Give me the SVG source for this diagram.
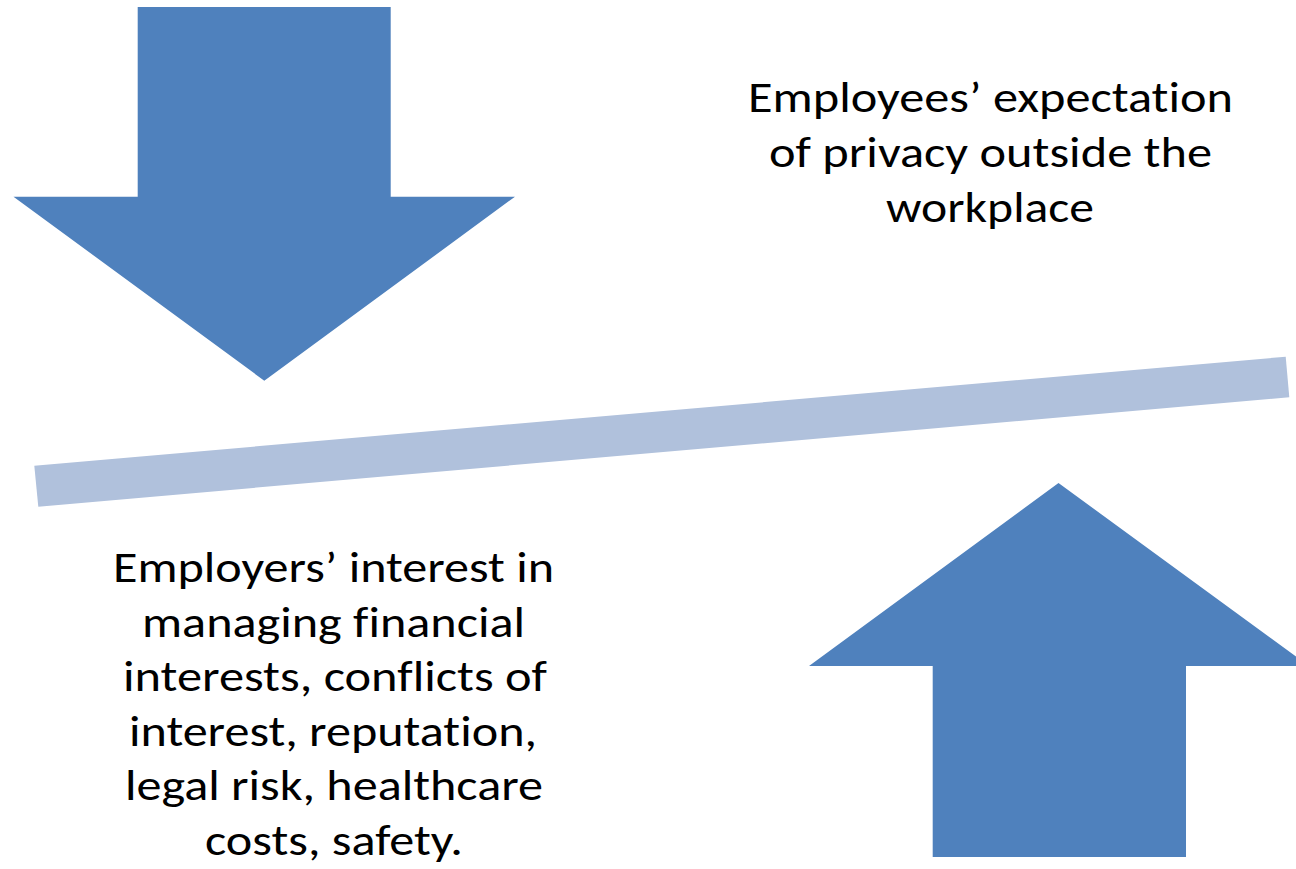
<svg xmlns="http://www.w3.org/2000/svg" width="1296" height="869" viewBox="0 0 1296 869">
  <style>
    .arrow { fill: #4F81BD; }
    .beam { fill: #B0C1DC; }
    .label { font-family: Carlito, Lato, "Liberation Sans", sans-serif; font-size: 44px; fill: #000000; text-anchor: middle; font-variant-ligatures: none; font-feature-settings: "liga" 0, "clig" 0, "calt" 0, "dlig" 0; text-rendering: optimizeSpeed; }
  </style>
  <rect width="1296" height="869" fill="#FFFFFF"/>

  <!-- downward block arrow pressing on the left end of the beam -->
  <g id="arrow-down">
    <polygon class="arrow" points="137.7,7 390.7,7 390.7,196.7 515,196.7 264.3,380.7 13.5,196.7 137.7,196.7"/>
  </g>

  <!-- tilted balance beam -->
  <g id="beam">
    <polygon class="beam" points="34.3,465.7 1285.7,356.7 1289.3,397.3 38.3,506.7"/>
  </g>

  <!-- upward block arrow pushing the right end of the beam -->
  <g id="arrow-up">
    <polygon class="arrow" points="1058.5,483 1309,666 1186,666 1186,857 932.7,857 932.7,666 809,666"/>
  </g>

  <!-- label above the beam -->
  <g id="employee-label">
    <text class="label" x="990.5" y="112" textLength="485" lengthAdjust="spacingAndGlyphs">Employees’ expectation</text>
    <text class="label" x="990.5" y="167" textLength="443" lengthAdjust="spacingAndGlyphs">of privacy outside the</text>
    <text class="label" x="990" y="221.5" textLength="208" lengthAdjust="spacingAndGlyphs">workplace</text>
  </g>

  <!-- label below the beam -->
  <g id="employer-label">
    <text class="label" x="333.5" y="582" textLength="441" lengthAdjust="spacingAndGlyphs">Employers’ interest in</text>
    <text class="label" x="333.5" y="636.5" textLength="383" lengthAdjust="spacingAndGlyphs">managing financial</text>
    <text class="label" x="335" y="691" textLength="424" lengthAdjust="spacingAndGlyphs">interests, conflicts of</text>
    <text class="label" x="333" y="745.5" textLength="408" lengthAdjust="spacingAndGlyphs">interest, reputation,</text>
    <text class="label" x="334" y="800" textLength="418" lengthAdjust="spacingAndGlyphs">legal risk, healthcare</text>
    <text class="label" x="334" y="854.5" textLength="258" lengthAdjust="spacingAndGlyphs">costs, safety.</text>
  </g>
</svg>
